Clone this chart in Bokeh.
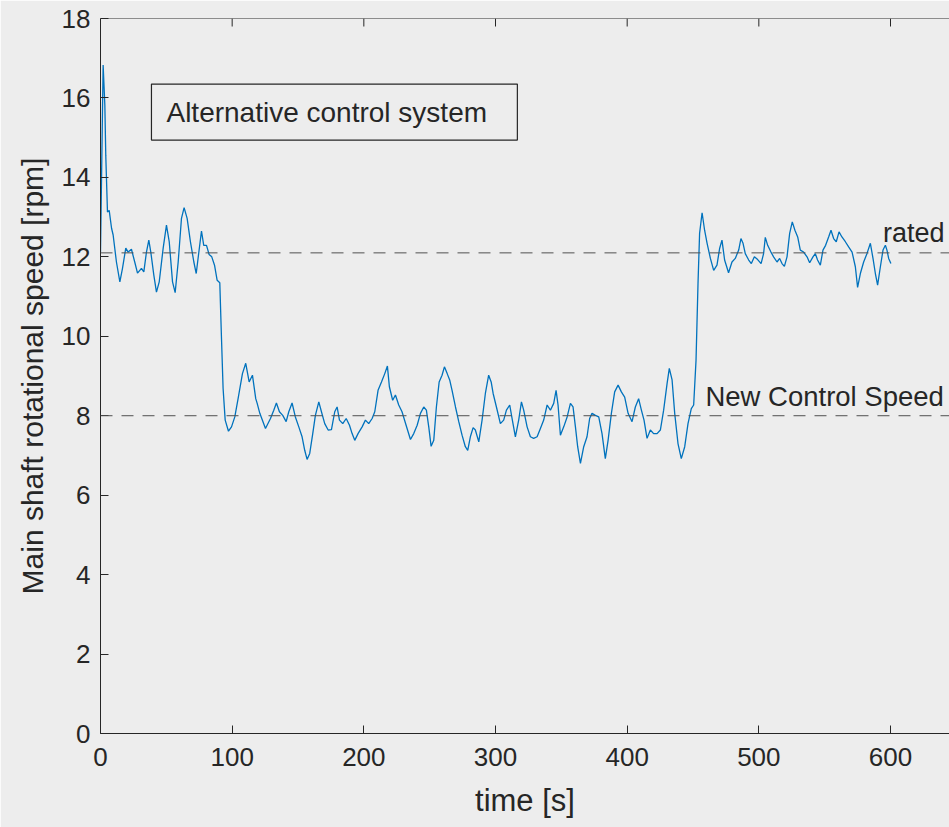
from bokeh.plotting import figure
from bokeh.models import Span, BoxAnnotation, FixedTicker, Range1d
from bokeh.core.properties import value
from bokeh.embed import file_html
from bokeh.resources import INLINE

time_s = [0, 2.0, 3.3, 4.0, 5.3, 6.6, 8.4, 9.6, 12.1, 14.7, 16.7, 19.2, 21.0, 23.5, 26.0, 28.1,
          31.1, 32.9, 34.9, 36.7, 38.2, 40.5, 42.5, 44.6, 47.6, 50.1, 52.2, 54.7, 56.7, 59.0,
          61.5, 63.5, 65.8, 68.3, 70.9, 72.7, 74.4, 76.7, 78.4, 80.5, 82.5, 84.5, 86.6, 88.6,
          90.6, 91.9, 93.1, 94.7, 97.2, 99.5, 102.0, 104.5, 107.8, 110.3, 112.9, 115.4, 117.9,
          119.0, 121.0, 125.3, 129.1, 131.6, 133.6, 135.9, 138.4, 141.0, 143.0, 145.5, 148.0,
          150.6, 153.1, 155.1, 156.9, 158.9, 161.2, 163.2, 165.8, 167.8, 170.3, 172.9, 175.4,
          177.9, 179.7, 181.5, 184.0, 186.6, 189.1, 191.1, 193.1, 195.6, 198.7, 201.2, 203.7,
          206.3, 208.3, 210.8, 213.4, 215.9, 217.9, 219.4, 221.9, 224.0, 226.5, 229.0, 232.1,
          235.4, 237.9, 240.5, 243.0, 245.5, 247.5, 249.3, 251.1, 253.1, 255.1, 257.2, 259.4,
          261.2, 263.3, 265.2, 267.0, 269.6, 272.1, 274.6, 277.1, 278.9, 280.9, 283.0, 284.7,
          287.3, 289.8, 292.3, 294.8, 296.7, 298.2, 300.7, 303.7, 306.2, 308.3, 310.8, 312.8,
          315.1, 317.6, 319.7, 321.4, 324.0, 326.5, 329.0, 331.6, 334.1, 336.6, 339.2, 341.7,
          344.2, 346.0, 347.5, 349.3, 351.8, 354.4, 356.9, 358.9, 360.7, 362.4, 364.5, 367.0,
          369.5, 371.5, 373.3, 375.9, 378.4, 380.9, 383.4, 385.5, 388.0, 390.5, 393.1, 395.6,
          398.1, 400.7, 403.7, 406.2, 408.7, 410.8, 412.8, 415.1, 417.6, 420.1, 422.7, 425.2,
          427.7, 430.3, 432.0, 434.1, 436.1, 438.6, 441.1, 443.7, 446.2, 448.7, 450.5, 452.3,
          453.8, 455.0, 456.9, 458.8, 460.7, 463.2, 465.7, 468.2, 470.2, 472.0, 474.0, 477.0,
          479.6, 482.1, 484.7, 486.4, 488.0, 489.7, 492.3, 494.3, 496.6, 499.1, 501.7, 503.6,
          504.9, 506.7, 509.2, 511.2, 513.8, 515.8, 517.6, 519.4, 521.4, 523.4, 525.4, 527.4,
          529.5, 531.5, 534.0, 536.6, 538.6, 541.1, 542.9, 544.6, 546.7, 548.7, 550.7, 553.0,
          554.8, 556.8, 558.8, 560.9, 563.1, 565.7, 568.2, 570.8, 573.3, 575.0, 577.1, 579.6,
          582.1, 584.7, 586.7, 588.5, 590.2, 592.3, 594.3, 596.1, 597.3, 598.6, 600.3]

speed_rpm = [12.12, 16.83, 15.82, 14.56, 13.13, 13.17, 12.72, 12.55, 11.87, 11.37, 11.71, 12.22,
             12.12, 12.19, 11.87, 11.59, 11.71, 11.62, 12.12, 12.42, 12.12, 11.54, 11.11, 11.37,
             12.22, 12.80, 12.38, 11.37, 11.10, 11.87, 12.97, 13.24, 12.97, 12.38, 11.87, 11.58,
             12.04, 12.65, 12.29, 12.29, 12.06, 12.00, 11.79, 11.41, 11.35, 9.94, 8.69, 7.89,
             7.61, 7.72, 7.97, 8.43, 9.06, 9.32, 8.85, 9.02, 8.43, 8.31, 8.06, 7.68, 7.93, 8.14,
             8.32, 8.10, 8.01, 7.85, 8.10, 8.32, 7.97, 7.72, 7.47, 7.13, 6.90, 7.05, 7.55, 8.01,
             8.35, 8.10, 7.80, 7.64, 7.65, 8.10, 8.22, 7.89, 7.80, 7.93, 7.76, 7.55, 7.38, 7.55,
             7.72, 7.89, 7.80, 7.93, 8.10, 8.64, 8.85, 9.06, 9.25, 8.73, 8.39, 8.52, 8.27, 8.10,
             7.76, 7.40, 7.55, 7.76, 8.06, 8.22, 8.14, 7.72, 7.23, 7.38, 8.22, 8.85, 9.02, 9.23,
             9.06, 8.90, 8.64, 8.22, 7.85, 7.51, 7.22, 7.13, 7.47, 7.70, 7.64, 7.34, 7.89, 8.56,
             9.02, 8.85, 8.56, 8.22, 7.80, 7.89, 8.14, 8.27, 7.89, 7.47, 7.89, 8.35, 8.14, 7.72,
             7.47, 7.43, 7.47, 7.68, 7.89, 8.27, 8.14, 8.31, 8.64, 8.27, 7.51, 7.72, 7.97, 8.31,
             8.22, 7.72, 7.22, 6.80, 7.22, 7.47, 7.93, 8.06, 8.01, 7.97, 7.55, 6.92, 7.38, 8.06,
             8.60, 8.77, 8.60, 8.47, 8.06, 7.85, 8.22, 8.43, 8.14, 7.89, 7.43, 7.64, 7.55, 7.55,
             7.64, 8.14, 8.81, 9.19, 8.90, 8.06, 7.30, 6.92, 7.22, 7.80, 8.18, 8.27, 9.40, 11.33,
             12.59, 13.11, 12.67, 12.34, 11.96, 11.66, 11.79, 12.21, 12.42, 11.92, 11.60, 11.87,
             11.96, 12.17, 12.46, 12.34, 12.08, 11.92, 11.83, 12.00, 11.93, 11.83, 12.08, 12.49,
             12.29, 12.12, 12.00, 11.87, 11.96, 11.83, 11.76, 12.00, 12.59, 12.88, 12.67, 12.50,
             12.17, 12.12, 12.00, 11.85, 12.00, 12.08, 11.92, 11.79, 12.17, 12.29, 12.50, 12.67,
             12.46, 12.38, 12.63, 12.50, 12.38, 12.25, 12.12, 11.75, 11.23, 11.58, 11.87, 12.08,
             12.34, 11.96, 11.58, 11.29, 11.75, 12.17, 12.29, 12.17, 11.96, 11.83]

rated_speed = 12.1
new_control_speed = 8.0
x_ticks = [0, 100, 200, 300, 400, 500, 600]
y_ticks = [0, 2, 4, 6, 8, 10, 12, 14, 16, 18]
y_max = 18

BG = "#ededed"
AX = "#262626"
FONT = "Liberation Sans"

p = figure(width=949, height=827, output_backend="svg", toolbar_location=None,
           x_range=Range1d(0, 644.8), y_range=Range1d(0, y_max),
           min_border_left=100, min_border_right=0, min_border_top=18, min_border_bottom=94,
           background_fill_color=BG, border_fill_color=BG)
p.outline_line_color = None
p.grid.visible = False

for ax in [p.xaxis[0], p.yaxis[0]]:
    ax.axis_line_color = AX
    ax.major_tick_line_color = AX
    ax.major_tick_in = 8
    ax.major_tick_out = 0
    ax.minor_tick_line_color = None
    ax.major_label_text_font = FONT
    ax.major_label_text_font_size = "26px"
    ax.major_label_text_color = AX
    ax.axis_label_text_font = FONT
    ax.axis_label_text_font_style = "normal"
    ax.axis_label_text_color = AX

p.xaxis[0].ticker = FixedTicker(ticks=x_ticks)
p.yaxis[0].ticker = FixedTicker(ticks=y_ticks)
p.xaxis[0].axis_label = "time [s]"
p.yaxis[0].axis_label = "Main shaft rotational speed [rpm]"
p.xaxis[0].axis_label_text_font_size = "31px"
p.yaxis[0].axis_label_text_font_size = "30px"
p.xaxis[0].major_label_standoff = 14
p.yaxis[0].major_label_standoff = 10
p.xaxis[0].axis_label_standoff = 14
p.yaxis[0].axis_label_standoff = 10

# top frame line with inward ticks (MATLAB box style)
p.add_layout(Span(location=y_max, dimension="width", line_color=AX, line_width=1))
tick_len = 8 / 39.72
p.segment(x0=x_ticks, y0=[y_max] * len(x_ticks), x1=x_ticks,
          y1=[y_max - tick_len] * len(x_ticks), line_color=AX, line_width=1)

p.add_layout(Span(location=rated_speed, dimension="width", line_color="#505050",
                  line_width=1, line_dash="12 9"))
p.add_layout(Span(location=new_control_speed, dimension="width", line_color="#505050",
                  line_width=1, line_dash="12 9"))

p.line(time_s, speed_rpm, line_color="#0072BD", line_width=1.3)

p.add_layout(BoxAnnotation(left=38.7, right=316.6, bottom=14.94, top=16.35,
                           fill_color=None, line_color=AX, line_width=1.2, line_alpha=1.0))

p.text(x=[50.1], y=[15.64], text=["Alternative control system"], text_font=value(FONT),
       text_font_size="28px", text_color=AX, text_baseline="alphabetic", text_align="left")
p.text(x=[594.3], y=[12.61], text=["rated"], text_font=value(FONT),
       text_font_size="27px", text_color=AX, text_baseline="alphabetic", text_align="left")
p.text(x=[459.4], y=[8.48], text=["New Control Speed"], text_font=value(FONT),
       text_font_size="27.5px", text_color=AX, text_baseline="alphabetic", text_align="left")

open("out.html", "w").write(file_html(p, INLINE))
